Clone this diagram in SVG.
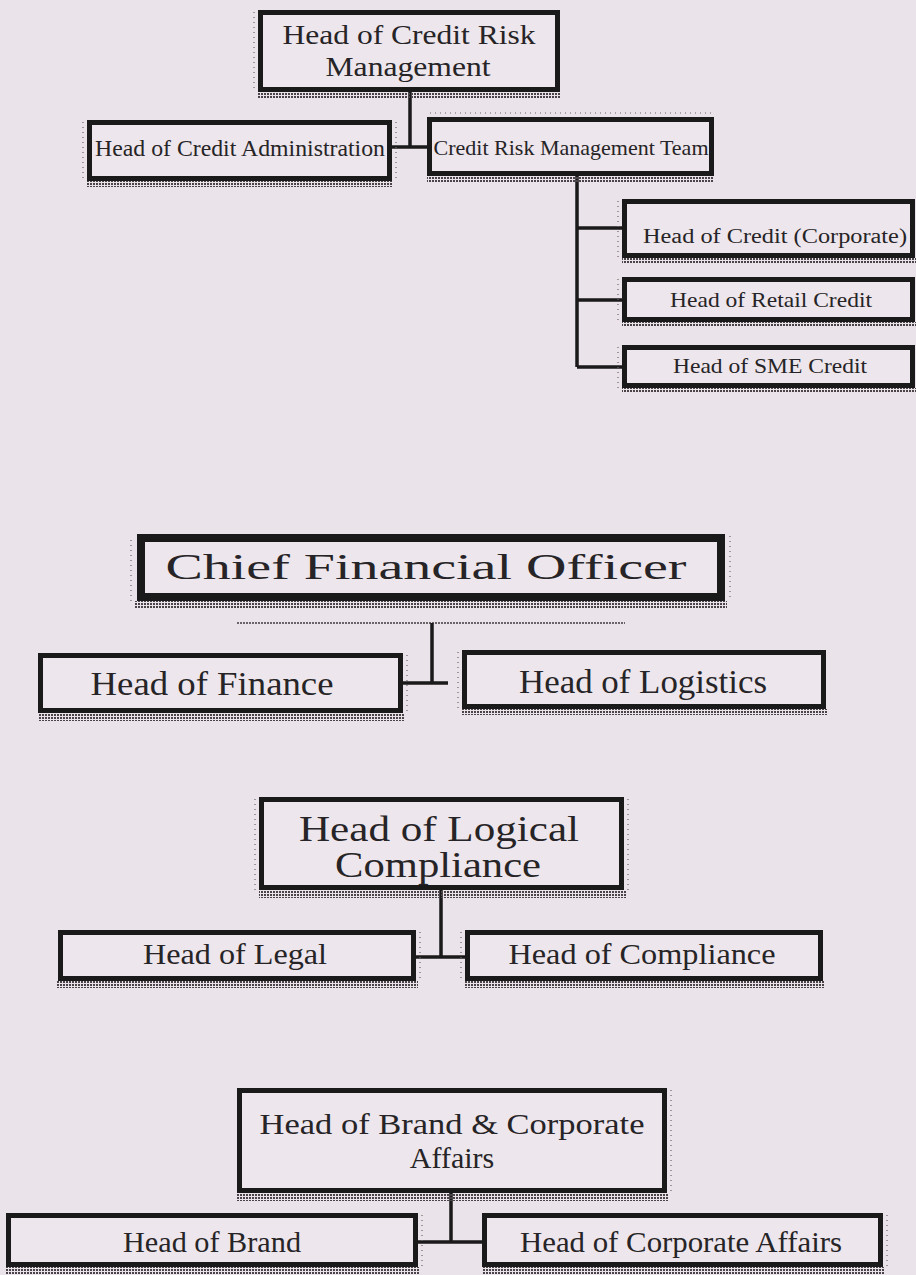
<svg xmlns="http://www.w3.org/2000/svg" width="916" height="1275" viewBox="0 0 916 1275">
<defs>
<pattern id="dots" width="3" height="3" patternUnits="userSpaceOnUse">
<rect x="0" y="0" width="2" height="2" fill="#4a4448"/>
</pattern>
<style>
.bx{fill:#ede6ec;stroke:#1b1a1b;stroke-width:5}
.bx8{fill:#ede6ec;stroke:#1b1a1b;stroke-width:8}
.sh{fill:url(#dots)}
.tk{fill:none;stroke:#6a6468;stroke-width:1.2;stroke-dasharray:1 4}
.t{font-family:"Liberation Serif","Times New Roman",serif;fill:#262426;text-anchor:middle}
.cn{stroke:#1b1a1b;stroke-width:3.5;fill:none}
</style>
</defs>
<rect width="916" height="1275" fill="#ebe3ea"/>

<g id="connectors">
<path class="cn" d="M410 92V147M392 147H428"/>
<path class="cn" d="M577 176V367M577 228H622M577 300H622M577 367H622"/>
<line x1="237" y1="623" x2="625" y2="623" stroke="#6a6468" stroke-width="2" stroke-dasharray="2 1"/>
<path class="cn" d="M432 623V683M403 683H448"/>
<path class="cn" d="M441 890V957M416 957H465"/>
<path stroke="#1b1a1b" stroke-width="2" d="M423 868V886"/>
<path class="cn" d="M451 1193V1242M418 1242H482"/>
</g>

<g id="n-crm">
<rect class="sh" x="258" y="92" width="302" height="6"/>
<line class="tk" x1="254" y1="12" x2="254" y2="92"/>
<rect class="bx" x="260.5" y="12.5" width="297" height="77"/>
<text class="t" font-size="28" x="409" y="44" textLength="253" lengthAdjust="spacingAndGlyphs">Head of Credit Risk</text>
<text class="t" font-size="28" x="408" y="76" textLength="165" lengthAdjust="spacingAndGlyphs">Management</text>
</g>

<g id="n-admin">
<rect class="sh" x="87" y="181" width="305" height="6"/>
<line class="tk" x1="83" y1="122" x2="83" y2="181"/>
<line class="tk" x1="396" y1="122" x2="396" y2="181"/>
<rect class="bx" x="89.5" y="122.5" width="300" height="56"/>
<text class="t" font-size="23" x="240" y="156" textLength="290" lengthAdjust="spacingAndGlyphs">Head of Credit Administration</text>
</g>

<g id="n-team">
<rect class="sh" x="427" y="176" width="287" height="6"/>
<line class="tk" x1="430" y1="113" x2="714" y2="113"/>
<rect class="bx" x="429.5" y="119.5" width="282" height="54"/>
<text class="t" font-size="22" x="571" y="155" textLength="275" lengthAdjust="spacingAndGlyphs">Credit Risk Management Team</text>
</g>

<g id="n-corp">
<rect class="sh" x="622" y="258" width="294" height="5"/>
<line class="tk" x1="618" y1="201" x2="618" y2="258"/>
<rect class="bx" x="624.5" y="201.5" width="288" height="54"/>
<text class="t" font-size="20" x="775" y="243" textLength="264" lengthAdjust="spacingAndGlyphs">Head of Credit (Corporate)</text>
</g>

<g id="n-retail">
<rect class="sh" x="622" y="322" width="294" height="5"/>
<line class="tk" x1="618" y1="279" x2="618" y2="322"/>
<rect class="bx" x="624.5" y="279.5" width="288" height="40"/>
<text class="t" font-size="21" x="771" y="307" textLength="202" lengthAdjust="spacingAndGlyphs">Head of Retail Credit</text>
</g>

<g id="n-sme">
<rect class="sh" x="622" y="388" width="294" height="5"/>
<line class="tk" x1="618" y1="347" x2="618" y2="388"/>
<rect class="bx" x="624.5" y="347.5" width="288" height="38"/>
<text class="t" font-size="21" x="770" y="373" textLength="194" lengthAdjust="spacingAndGlyphs">Head of SME Credit</text>
</g>

<g id="n-cfo">
<rect class="sh" x="135" y="601" width="592" height="7"/>
<line class="tk" x1="131" y1="540" x2="131" y2="601"/>
<line class="tk" x1="730" y1="536" x2="730" y2="601"/>
<rect class="bx8" x="141" y="538" width="580" height="59"/>
<text class="t" font-family="DejaVu Serif,serif" font-size="36" x="426" y="579" textLength="521" lengthAdjust="spacingAndGlyphs">Chief Financial Officer</text>
</g>

<g id="n-finance">
<rect class="sh" x="38" y="713" width="367" height="8"/>
<line class="tk" x1="407" y1="655" x2="407" y2="713"/>
<rect class="bx" x="40.5" y="655.5" width="360" height="55"/>
<text class="t" font-size="34" x="212" y="695" textLength="243" lengthAdjust="spacingAndGlyphs">Head of Finance</text>
</g>

<g id="n-logistics">
<rect class="sh" x="462" y="709" width="366" height="6"/>
<line class="tk" x1="458" y1="652" x2="458" y2="709"/>
<rect class="bx" x="464.5" y="652.5" width="359" height="54"/>
<text class="t" font-size="34" x="643" y="693" textLength="248" lengthAdjust="spacingAndGlyphs">Head of Logistics</text>
</g>

<g id="n-logical">
<rect class="sh" x="259" y="890" width="367" height="8"/>
<line class="tk" x1="255" y1="799" x2="255" y2="890"/>
<line class="tk" x1="628" y1="799" x2="628" y2="890"/>
<rect class="bx" x="261.5" y="799.5" width="360" height="88"/>
<text class="t" font-size="35" x="439" y="841" textLength="280" lengthAdjust="spacingAndGlyphs">Head of Logical</text>
<text class="t" font-size="35" x="438" y="877" textLength="206" lengthAdjust="spacingAndGlyphs">Compliance</text>
</g>

<g id="n-legal">
<rect class="sh" x="56" y="981" width="362" height="7"/>
<line class="tk" x1="420" y1="932" x2="420" y2="981"/>
<rect class="bx" x="60.5" y="932.5" width="353" height="46"/>
<text class="t" font-size="30" x="235" y="964" textLength="184" lengthAdjust="spacingAndGlyphs">Head of Legal</text>
</g>

<g id="n-compliance">
<rect class="sh" x="465" y="981" width="360" height="7"/>
<line class="tk" x1="461" y1="932" x2="461" y2="981"/>
<rect class="bx" x="467.5" y="932.5" width="353" height="46"/>
<text class="t" font-size="30" x="642" y="964" textLength="267" lengthAdjust="spacingAndGlyphs">Head of Compliance</text>
</g>

<g id="n-brandcorp">
<rect class="sh" x="237" y="1193" width="432" height="8"/>
<line class="tk" x1="671" y1="1090" x2="671" y2="1193"/>
<rect class="bx" x="239.5" y="1090.5" width="425" height="100"/>
<text class="t" font-size="30" x="452" y="1134" textLength="385" lengthAdjust="spacingAndGlyphs">Head of Brand &amp; Corporate</text>
<text class="t" font-size="30" x="452" y="1168">Affairs</text>
</g>

<g id="n-brand">
<rect class="sh" x="6" y="1267" width="414" height="8"/>
<line class="tk" x1="422" y1="1215" x2="422" y2="1267"/>
<rect class="bx" x="8.5" y="1215.5" width="407" height="49"/>
<text class="t" font-size="29" x="212" y="1252" textLength="178" lengthAdjust="spacingAndGlyphs">Head of Brand</text>
</g>

<g id="n-corpaffairs">
<rect class="sh" x="482" y="1267" width="403" height="8"/>
<line class="tk" x1="887" y1="1215" x2="887" y2="1267"/>
<rect class="bx" x="484.5" y="1215.5" width="396" height="49"/>
<text class="t" font-size="30" x="681" y="1252" textLength="322" lengthAdjust="spacingAndGlyphs">Head of Corporate Affairs</text>
</g>
</svg>
